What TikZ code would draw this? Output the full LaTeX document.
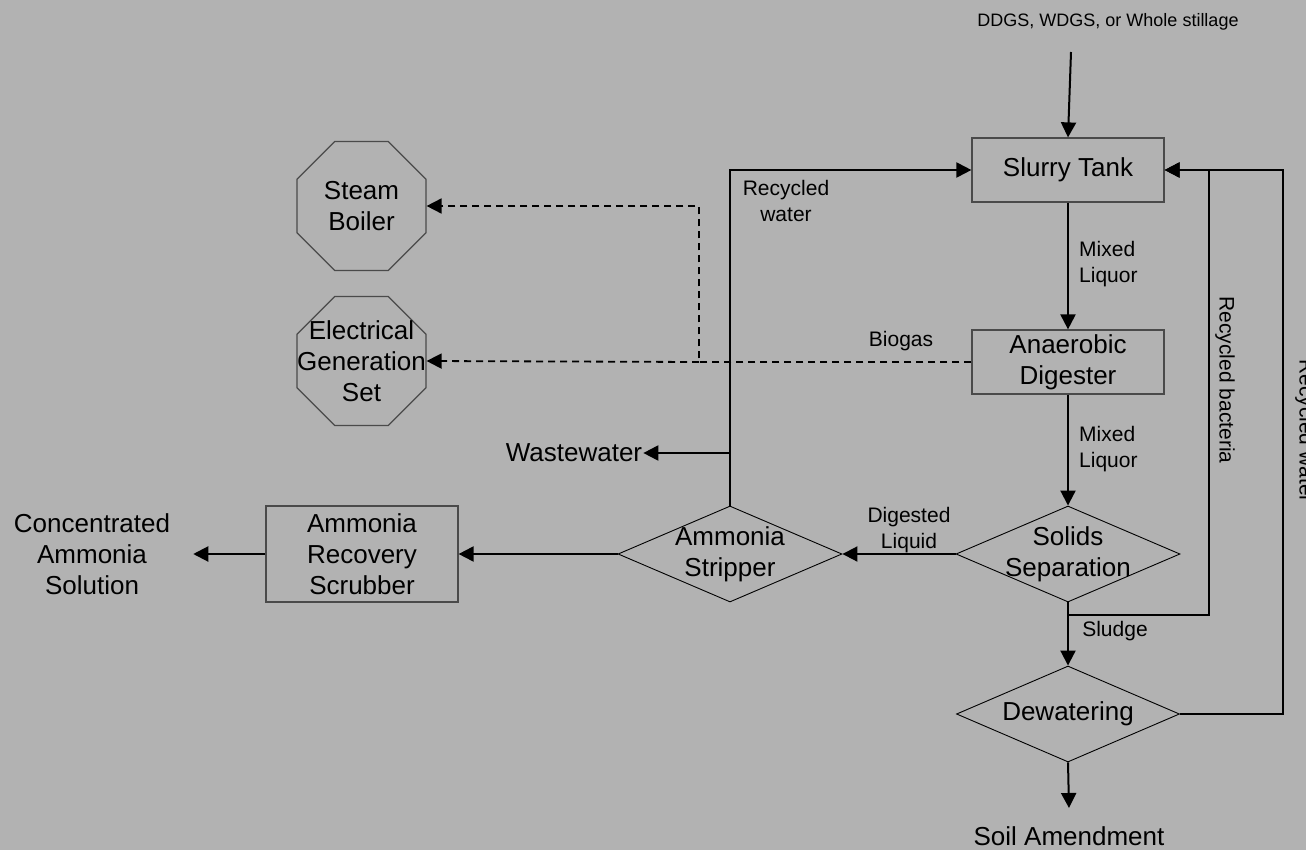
\documentclass[tikz,border=0pt]{standalone}
\usepackage{fontspec}
\setmainfont{Liberation Sans}
\usetikzlibrary{arrows.meta,shapes.geometric}
\definecolor{bg}{HTML}{B2B2B2}
\definecolor{edge}{HTML}{4A4A4A}
\newcommand\fbig{\fontsize{26}{31}\selectfont}
\newcommand\fsmall{\fontsize{21}{26}\selectfont}
\newcommand\ftop{\fontsize{18}{22}\selectfont}
\begin{document}
\begin{tikzpicture}[x=1pt,y=-1pt,
  box/.style={draw=edge,line width=1.2pt,minimum width=192pt,minimum height=64pt,inner sep=0pt,font=\fbig,align=center},
  dia/.style={draw=black,line width=0.9pt,diamond,minimum width=224pt,minimum height=96pt,inner sep=0pt},
  oct/.style={draw=edge,line width=1.2pt,regular polygon,regular polygon sides=8,minimum size=139.6pt,inner sep=0pt},
  inlab/.style={font=\fbig,align=center,inner sep=0pt},
  lab/.style={font=\fsmall,inner sep=0pt},
  flow/.style={line width=2pt,-{Triangle[length=15pt,width=15pt]}},
  plain/.style={line width=2pt},
  dl/.style={line width=1.8pt,dash pattern=on 7pt off 5pt,-{Triangle[length=15pt,width=15pt]}}
]
\fill[bg] (0,0) rectangle (1306,850);
\useasboundingbox (0,0) rectangle (1306,850);

% nodes
\node[font=\ftop,inner sep=0pt] (src) at (1108,22) {DDGS, WDGS, or Whole stillage};
\coordinate (srcend) at (1071,52);
\node[box] (st) at (1068,170) {Slurry Tank};
\node[box] (ad) at (1068,362) {Anaerobic\\Digester};
\node[dia,label={[inlab]center:Solids\\Separation}] (ss) at (1068,554) {};
\node[dia,label={[inlab]center:Ammonia\\Stripper}] (as) at (730,554) {};
\node[dia,minimum width=223pt,label={[inlab]center:Dewatering}] (dw) at (1068,714) {};
\node[box,minimum height=96pt] (ar) at (362,554) {Ammonia\\Recovery\\Scrubber};
\node[font=\fbig,align=center,inner ysep=0pt,inner xsep=23pt] (cas) at (92,554) {Concentrated\\Ammonia\\Solution};
\node[font=\fbig,inner ysep=0pt,inner xsep=1pt] (ww) at (574,453) {Wastewater};
\node[font=\fbig,anchor=north,inner sep=0pt] (soil) at (1069,826) {Soil Amendment};
\node[oct,label={[inlab]center:Steam\\Boiler}] (sb) at (361.5,206) {};
\node[oct,label={[inlab]center:Electrical\\Generation\\Set}] (eg) at (361.5,361) {};

% labels
\node[lab,anchor=west,align=left] (ml1) at (1079,264) {Mixed\\Liquor};
\node[lab,anchor=west,align=left] (ml2) at (1079,449) {Mixed\\Liquor};
\node[lab,align=center] (dlq) at (909,530) {Digested\\Liquid};
\node[lab,align=center] (rwl) at (786,201) {Recycled\\water};
\node[lab] (bio) at (901,341) {Biogas};
\node[lab] (slu) at (1115,631) {Sludge};
\node[lab,rotate=-90] (rbl) at (1225,380) {Recycled bacteria};
\node[lab,rotate=-90] (rwl2) at (1305,431) {Recycled water};

% main flow
\draw[flow] (srcend) -- (st.north);
\draw[flow] (st) -- (ad);
\draw[flow] (ad) -- (ss);
\draw[flow] (ss.west) -- (as.east);
\draw[flow] (as.west) -- (ar.east);
\draw[flow] (ar.west) -- (cas.east);
\draw[flow] (ss.south) -- (dw.north);
\draw[flow] (dw.south) -- ([yshift=18pt]soil.north);

% recycled water from stripper
\draw[flow] (as.north) -- (as.north |- st.west) -- (st.west);
\draw[flow] (as.north |- ww) -- (ww.east);

% recycled bacteria and water
\coordinate (bac) at (1209,615);
\coordinate (rw) at (1283,714);
\draw[flow] (ss.south |- bac) -- (bac) |- (st.east);
\draw[flow] (dw.east) -- (rw) |- (st.east);

% biogas
\coordinate (bj) at (699,362);
\draw[dl] (ad.west) -- (bj) |- (sb.east);
\draw[dl] (bj) -- (eg.east);
\end{tikzpicture}
\end{document}
